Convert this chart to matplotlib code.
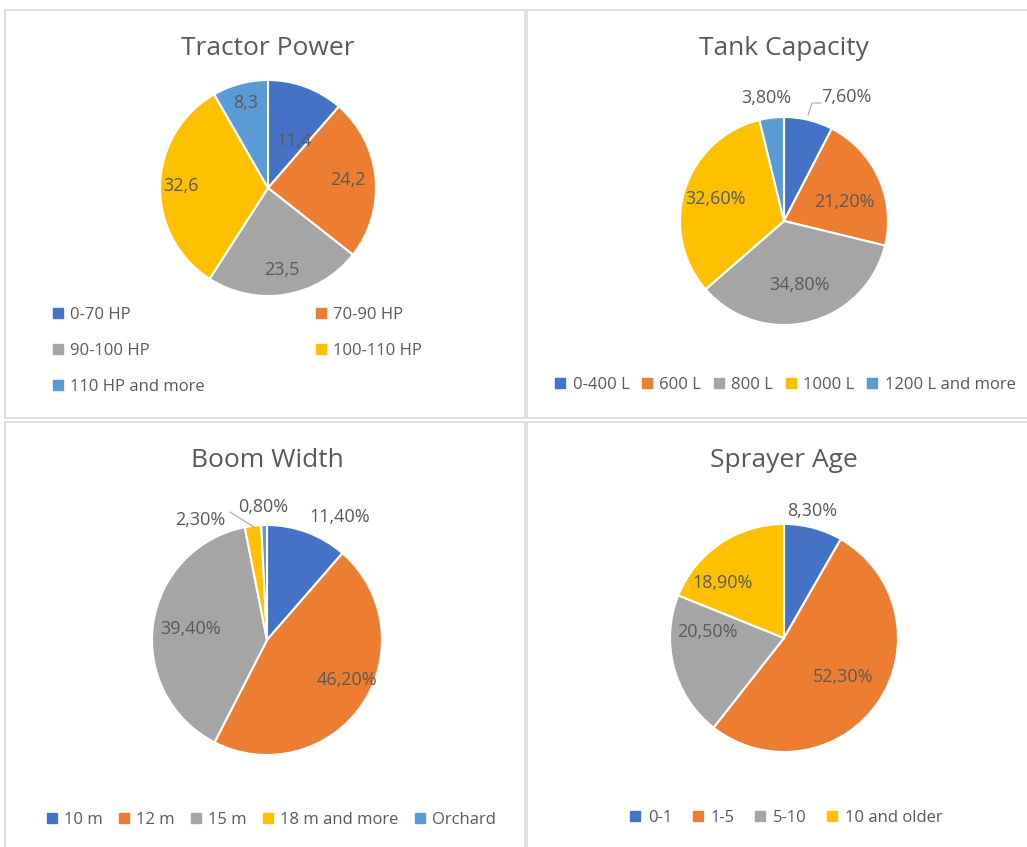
import numpy as np
import matplotlib
matplotlib.use("Agg")
import matplotlib.pyplot as plt
from matplotlib.lines import Line2D
from matplotlib.patches import Rectangle

plt.rcParams['font.family'] = ['Open Sans', 'DejaVu Sans']

# data
tractor_labels = ['0-70 HP', '70-90 HP', '90-100 HP', '100-110 HP', '110 HP and more']
tractor_values = [11.4, 24.2, 23.5, 32.6, 8.3]
tractor_text = ['11,4', '24,2', '23,5', '32,6', '8,3']

tank_labels = ['0-400 L', '600 L', '800 L', '1000 L', '1200 L and more']
tank_values = [7.6, 21.2, 34.8, 32.6, 3.8]
tank_text = ['7,60%', '21,20%', '34,80%', '32,60%', '3,80%']

boom_labels = ['10 m', '12 m', '15 m', '18 m and more', 'Orchard']
boom_values = [11.4, 46.2, 39.4, 2.3, 0.8]
boom_text = ['11,40%', '46,20%', '39,40%', '2,30%', '0,80%']

age_labels = ['0-1', '1-5', '5-10', '10 and older']
age_values = [8.3, 52.3, 20.5, 18.9]
age_text = ['8,30%', '52,30%', '20,50%', '18,90%']

colors = ['#4472C4', '#ED7D31', '#A5A5A5', '#FFC000', '#5B9BD5']
txt = '#595959'

W, H = 1027, 847
fig = plt.figure(figsize=(W / 100, H / 100), dpi=100)
ax = fig.add_axes([0, 0, 1, 1])


def Y(y):
    return H - y


# panel borders
for (x0, y0, x1, y1) in [(5, 10, 525, 418), (527, 10, 1030, 418),
                         (5, 422, 525, 852), (527, 422, 1030, 852)]:
    ax.add_patch(Rectangle((x0, Y(y1)), x1 - x0, y1 - y0, fill=False,
                           edgecolor='#d9d9d9', linewidth=1.2))


def draw_pie(values, texts, cx, cy, r, place, title, ty):
    # place: (radius factor, clockwise shift in degrees) for each label
    wedges, _ = ax.pie(values, colors=colors[:len(values)], startangle=90,
                       counterclock=False, center=(cx, Y(cy)), radius=r,
                       wedgeprops=dict(edgecolor='white', linewidth=1.5))
    for w, t, (f, shift) in zip(wedges, texts, place):
        th = np.deg2rad((w.theta1 + w.theta2) / 2 - shift)
        x = cx + f * r * np.cos(th)
        y = Y(cy) + f * r * np.sin(th)
        ax.text(x, y, t, ha='center', va='center', fontsize=13, color=txt)
    ax.text(cx, Y(ty), title, ha='center', va='center', fontsize=19, color=txt)
    return wedges


draw_pie(tractor_values, tractor_text, 268, 188, 108,
         [(0.5, 8), (0.74, 0), (0.77, 0), (0.81, 0), (0.81, 0)],
         'Tractor Power', 48)
draw_pie(tank_values, tank_text, 784, 221, 104,
         [(1.33, 13), (0.61, 7.5), (0.63, 0), (0.69, 0), (1.2, -1.5)],
         'Tank Capacity', 48)
draw_pie(boom_values, boom_text, 267, 640, 115,
         [(1.24, 10), (0.78, -7.6), (0.67, 0), (1.19, -22), (1.16, 0)],
         'Boom Width', 460)
draw_pie(age_values, age_text, 784, 638, 114,
         [(1.14, -2.6), (0.62, -1), (0.67, 19.5), (0.72, -14)],
         'Sprayer Age', 460)

# leader lines
ax.plot([808, 812, 821], [Y(115), Y(103), Y(103)], color='#a6a6a6', lw=0.8)
ax.plot([230, 254], [Y(512), Y(527)], color='#a6a6a6', lw=0.8)

ax.set_xlim(0, W)
ax.set_ylim(0, H)
ax.set_aspect('auto')
ax.axis('off')


def handles(n):
    return [Line2D([], [], marker='s', linestyle='none', markersize=6.5,
                   color=c) for c in colors[:n]]


leg_kw = dict(frameon=False, fontsize=12, labelcolor=txt, handlelength=0.7,
              handletextpad=0.4, loc='center')

h = handles(5)
order = [0, 2, 4, 1, 3]
fig.legend([h[i] for i in order], [tractor_labels[i] for i in order], ncol=2,
           columnspacing=6.6, labelspacing=1.2,
           bbox_to_anchor=(237 / W, 1 - 351 / H), **leg_kw)
fig.legend(handles(5), tank_labels, ncol=5, columnspacing=0.7,
           bbox_to_anchor=(785 / W, 1 - 385 / H), **leg_kw)
fig.legend(handles(5), boom_labels, ncol=5, columnspacing=0.9,
           bbox_to_anchor=(271 / W, 1 - 820 / H), **leg_kw)
fig.legend(handles(4), age_labels, ncol=4, columnspacing=1.2,
           bbox_to_anchor=(786 / W, 1 - 818 / H), **leg_kw)

fig.savefig('out.png', dpi=100, facecolor='white')
